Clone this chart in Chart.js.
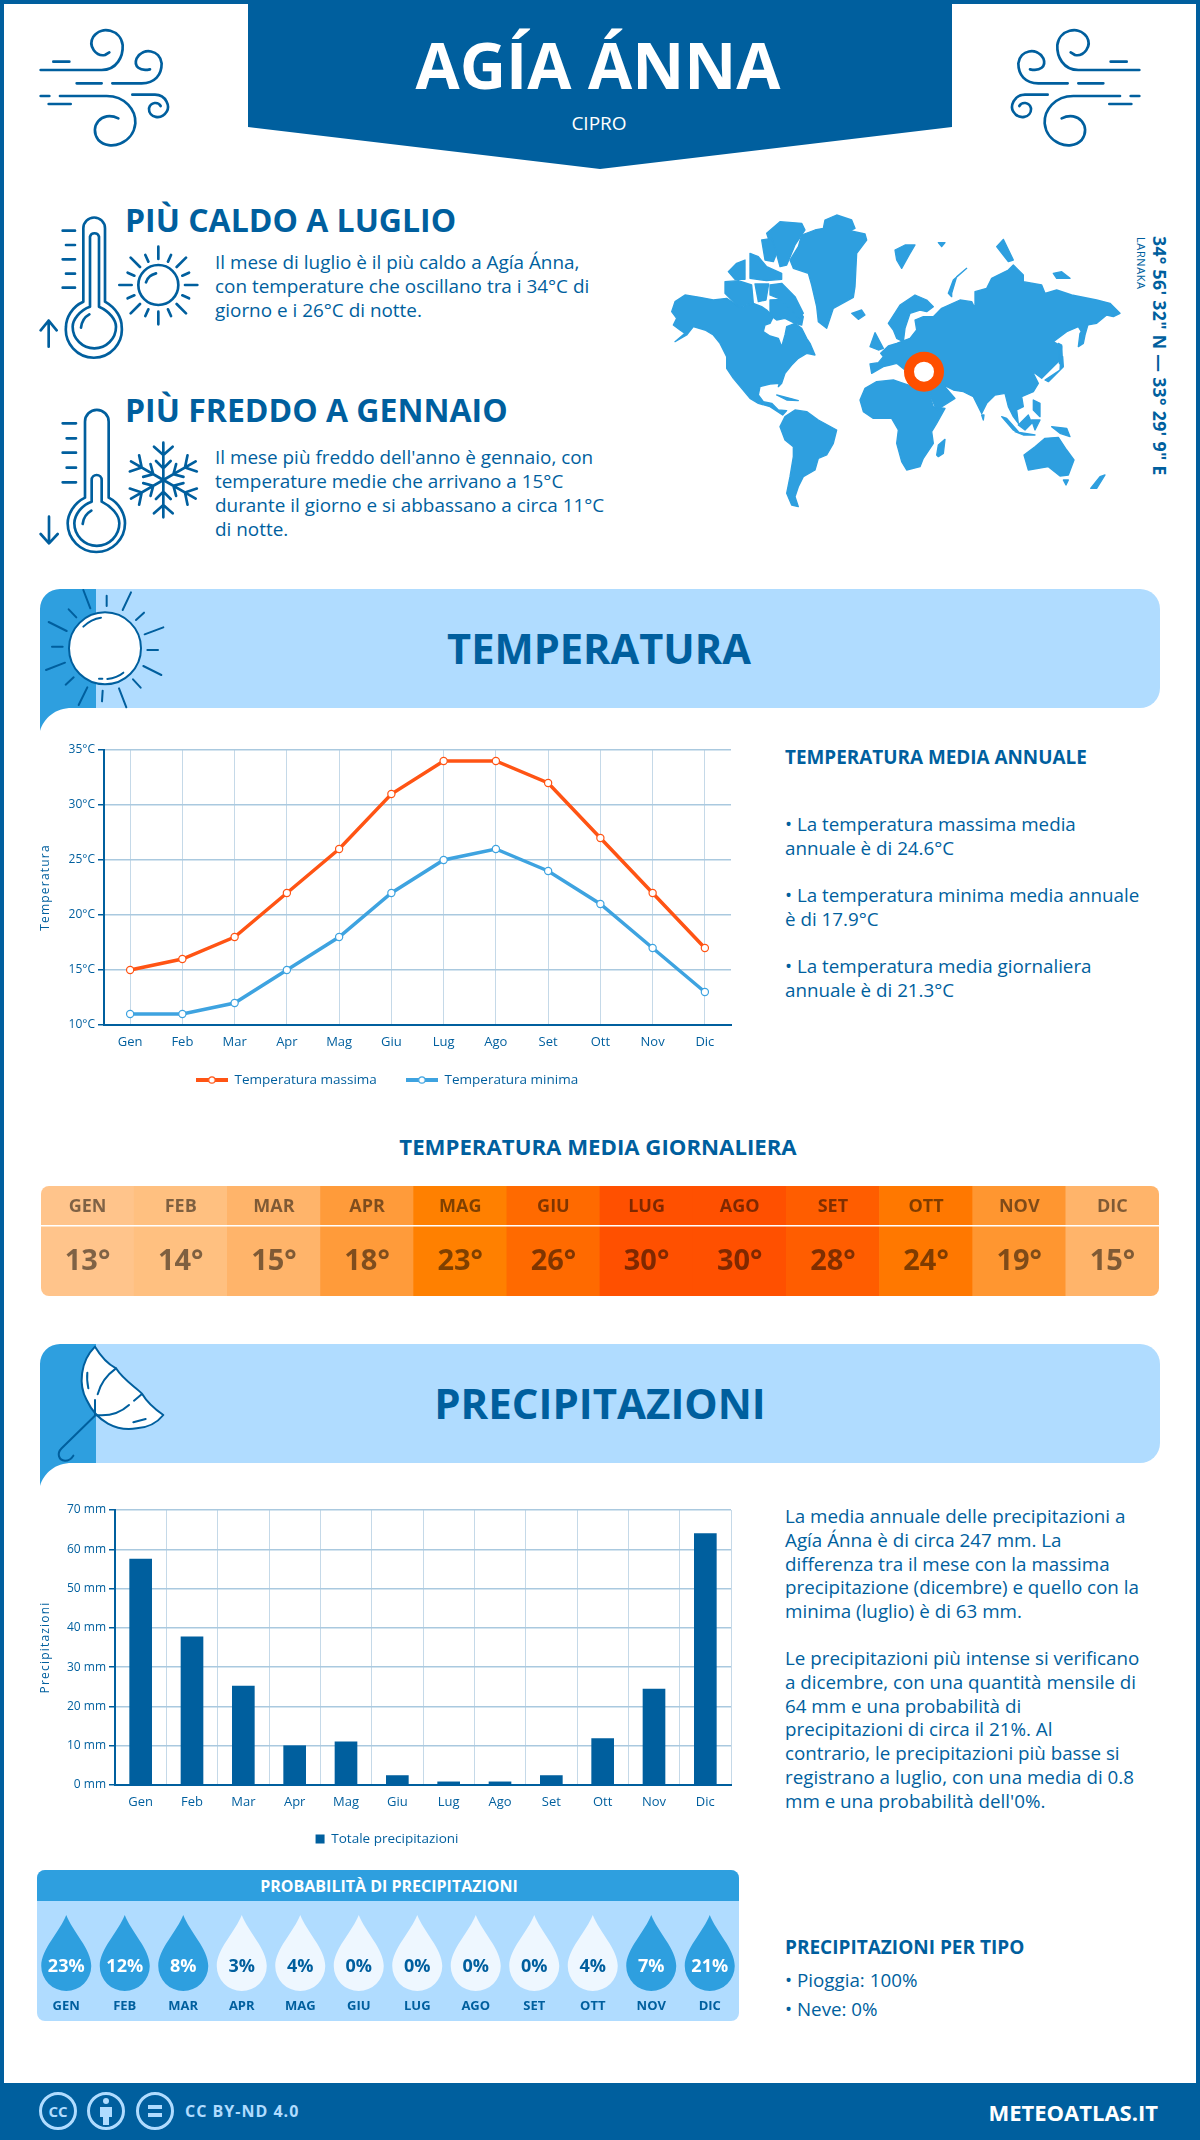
<!DOCTYPE html>
<html lang="it"><head><meta charset="utf-8"><title>Agía Ánna</title>
<script src="https://cdn.jsdelivr.net/npm/chart.js@4/dist/chart.umd.min.js"></script>
<style>
html,body{margin:0;padding:0;background:#fff}
#page{position:relative;width:1200px;height:2140px;overflow:hidden;font-family:"Open Sans",sans-serif;color:#005f9e;background:#fff}
.t{position:absolute;white-space:nowrap}
.b{font-weight:700}
svg{position:absolute;overflow:visible}
canvas{position:absolute}
.ic path,.ic circle{fill:none;stroke:#005f9e;stroke-linecap:round;stroke-linejoin:round}
.body{font-size:18.9px;line-height:24px}
.side{font-size:18.8px;line-height:23.8px}
</style></head><body><div id="page">

<svg style="left:0;top:0" width="1200" height="2140">
  <rect x="2" y="2" width="1196" height="2136" fill="none" stroke="#005f9e" stroke-width="4"/>
  <polygon points="248,0 952,0 952,127 600,169 248,127" fill="#005f9e"/>
  <rect x="0" y="2083" width="1200" height="57" fill="#005f9e"/>
  <g>
    <path d="M96,589 H1140 A20,20 0 0 1 1160,609 V688 A20,20 0 0 1 1140,708 H96 Z" fill="#b0dcff"/>
    <path d="M40,731 V609 A20,20 0 0 1 60,589 H96 V708 H72 C55,708 44,718 40,731 Z" fill="#2e9fdf"/>
  </g>
  <g transform="translate(0,755)">
    <path d="M96,589 H1140 A20,20 0 0 1 1160,609 V688 A20,20 0 0 1 1140,708 H96 Z" fill="#b0dcff"/>
    <path d="M40,731 V609 A20,20 0 0 1 60,589 H96 V708 H72 C55,708 44,718 40,731 Z" fill="#2e9fdf"/>
  </g>
  <rect x="37" y="1870" width="702" height="151" rx="8" fill="#b0dcff"/>
  <path d="M37,1901 V1878 A8,8 0 0 1 45,1870 H731 A8,8 0 0 1 739,1878 V1901 Z" fill="#2e9fdf"/>
</svg>

<!-- wind icons -->
<svg class="ic" style="left:30px;top:20px" width="150" height="140" viewBox="0 0 450 420"><g>
<path stroke-width="8" d="M32,150 H215 C260,150 280,110 278,75 C272,30 215,15 190,50 C172,80 200,110 225,105 L238,97"/>
<path stroke-width="8" d="M70,125 H118"/>
<path stroke-width="8" d="M140,190 H215 M247,190 H335 C375,190 395,165 395,130 C390,90 340,80 320,115 C310,140 330,155 360,148"/>
<path stroke-width="8" d="M32,228 H58 M90,228 H230 C285,228 318,270 316,310 C310,370 240,395 205,360 C175,320 215,270 265,295"/>
<path stroke-width="8" d="M56,252 H122"/>
<path stroke-width="8" d="M307,224 H375 C410,225 420,260 410,275 C395,300 355,295 357,265 C362,245 385,245 392,258"/>
</g></svg>
<svg class="ic" style="left:1000px;top:20px;transform:scaleX(-1)" width="150" height="140" viewBox="0 0 450 420"><g>
<path stroke-width="8" d="M32,150 H215 C260,150 280,110 278,75 C272,30 215,15 190,50 C172,80 200,110 225,105 L238,97"/>
<path stroke-width="8" d="M70,125 H118"/>
<path stroke-width="8" d="M140,190 H215 M247,190 H335 C375,190 395,165 395,130 C390,90 340,80 320,115 C310,140 330,155 360,148"/>
<path stroke-width="8" d="M32,228 H58 M90,228 H230 C285,228 318,270 316,310 C310,370 240,395 205,360 C175,320 215,270 265,295"/>
<path stroke-width="8" d="M56,252 H122"/>
<path stroke-width="8" d="M307,224 H375 C410,225 420,260 410,275 C395,300 355,295 357,265 C362,245 385,245 392,258"/>
</g></svg>

<!-- hot thermometer + sun -->
<svg class="ic" style="left:30px;top:205px" width="180" height="160" viewBox="0 0 540 480">
<path stroke-width="8" d="M160,290 V70 A32,32 0 0 1 225,70 V290 C260,310 275,340 275,365 A84,84 0 1 1 108,365 C108,340 125,305 160,290 Z"/>
<path stroke-width="8" d="M180,305 V95 A14,14 0 0 1 207,95 V305 C240,320 258,345 258,365 A65,65 0 1 1 128,365 C128,345 150,315 180,305 Z"/>
<path stroke-width="8" d="M153,368 C155,350 165,335 178,328 M98,77 H135 M108,120 H135 M98,163 H135 M108,206 H135 M98,248 H135 M56,425 V347 M32,376 L56,347 L80,376"/>
<circle stroke-width="8" cx="385" cy="240" r="60"/>
<path stroke-width="8" d="M348,232 C352,218 365,208 378,205 M385,125 V162 M385,320 V358 M268,240 H305 M465,240 H502 M302,158 L330,186 M468,158 L440,186 M302,325 L330,297 M468,325 L440,297 M346,150 L355,170 M423,150 L414,170 M293,203 L313,212 M477,203 L457,212 M293,280 L313,271 M477,280 L457,271 M346,333 L355,313 M423,333 L414,313"/>
</svg>
<!-- cold thermometer + snowflake -->
<svg class="ic" style="left:30px;top:400px" width="180" height="160" viewBox="0 0 540 480">
<path stroke-width="8" d="M165,293 V65 A35,35 0 0 1 236,65 V293 C270,310 285,345 285,370 A85,85 0 1 1 113,370 C113,345 130,310 165,293 Z"/>
<path stroke-width="8" d="M185,305 V240 A15,15 0 0 1 215,240 V305 C245,320 268,345 268,370 A67,67 0 1 1 133,370 C133,345 155,315 185,305 Z"/>
<path stroke-width="8" d="M158,372 C160,352 170,340 184,332 M98,70 H138 M110,115 H138 M98,158 H138 M110,203 H138 M98,247 H138 M57,350 V430 M32,402 L57,430 L83,402"/>
<path stroke-width="8" d="M400,240 V128 M372,140 L400,165 L428,140 M378,183 L400,205 L422,183"/>
<path stroke-width="8" transform="rotate(60 400 240)" d="M400,240 V128 M372,140 L400,165 L428,140 M378,183 L400,205 L422,183"/>
<path stroke-width="8" transform="rotate(120 400 240)" d="M400,240 V128 M372,140 L400,165 L428,140 M378,183 L400,205 L422,183"/>
<path stroke-width="8" transform="rotate(180 400 240)" d="M400,240 V128 M372,140 L400,165 L428,140 M378,183 L400,205 L422,183"/>
<path stroke-width="8" transform="rotate(240 400 240)" d="M400,240 V128 M372,140 L400,165 L428,140 M378,183 L400,205 L422,183"/>
<path stroke-width="8" transform="rotate(300 400 240)" d="M400,240 V128 M372,140 L400,165 L428,140 M378,183 L400,205 L422,183"/>
</svg>

<!-- banner sun -->
<svg style="left:30px;top:580px" width="180" height="160" viewBox="0 0 540 480">
<circle cx="225" cy="205" r="108" fill="#fff" stroke="#005f9e" stroke-width="6"/>
<path fill="none" stroke="#005f9e" stroke-width="6" stroke-linecap="round" d="M160,140 C175,125 195,115 213,113 M232,297 C250,295 268,288 280,278 M207,296 H217 M160,30 L181,85 M230,47 V78 M303,37 L278,90 M116,88 L139,112 M342,98 L318,120 M56,126 L110,153 M400,142 L344,163 M66,200 H98 M352,210 H384 M48,270 L105,248 M340,258 L394,285 M107,314 L131,292 M309,298 L332,323 M146,375 L172,322 M218,332 L216,364 M267,325 L289,382"/>
</svg>
<!-- banner umbrella -->
<svg style="left:30px;top:1335px" width="180" height="160" viewBox="0 0 540 480">
<path fill="#fff" stroke="#005f9e" stroke-width="6" stroke-linejoin="round" d="M195,35 C150,80 145,150 170,195 C200,260 260,290 320,280 C350,278 380,265 400,240 C370,220 350,200 335,175 C315,155 280,135 258,100 C230,85 210,60 195,35 Z"/>
<path fill="none" stroke="#005f9e" stroke-width="6" stroke-linecap="round" d="M258,100 C230,120 210,150 203,178 M195,195 V240 M197,240 C240,245 275,230 297,210 M312,197 L335,178 M172,113 C170,130 172,145 175,160 M310,262 L347,252 M197,240 L95,340 C80,355 85,375 105,377 C115,377 125,370 130,362"/>
</svg>

<!-- world map -->
<svg style="left:670px;top:210px" width="450" height="300" viewBox="0 0 1350 900">
<g fill="#2e9fdf" stroke="#2e9fdf" stroke-width="4" stroke-linejoin="round">
<path d="M5,305 L15,275 45,255 90,262 130,270 170,265 200,285 215,290 250,280 275,290 290,300 310,320 300,340 285,345 280,365 300,378 325,385 335,410 345,375 350,350 375,340 395,355 410,385 420,400 435,435 410,430 385,445 365,465 345,490 335,520 325,530 328,520 300,522 270,530 265,555 280,575 305,580 325,600 350,602 338,615 300,590 265,580 240,565 215,535 190,505 170,475 170,440 150,400 130,375 105,360 70,350 50,375 15,395 45,370 30,360 10,345 20,325 Z"/>
<path d="M300,270 L340,268 375,290 400,320 395,345 375,340 345,325 320,330 300,315 Z"/>
<path d="M290,70 L330,35 395,40 405,60 375,105 350,165 330,170 315,115 300,100 Z"/>
<path d="M360,150 L385,110 395,75 435,60 460,55 465,30 500,15 545,30 555,55 540,62 585,72 590,90 560,130 555,230 550,262 490,295 470,355 445,335 440,290 425,225 415,190 370,175 Z"/>
<path d="M300,225 L335,220 375,260 390,290 400,310 385,325 355,290 325,265 300,255 Z"/>
<path d="M175,185 L200,160 225,150 225,208 195,208 Z M240,130 L265,140 290,170 335,190 335,208 290,212 240,205 Z M165,215 L205,212 245,225 250,280 205,290 165,250 Z M255,222 L296,222 288,270 265,275 Z M275,90 L305,85 320,130 310,155 285,150 Z"/>
<path d="M320,555 L360,565 385,572 350,570 Z"/>
<path d="M330,650 L345,620 375,600 410,605 445,630 500,660 490,700 470,735 445,745 435,780 400,800 385,830 375,860 385,890 365,885 350,850 360,800 370,740 370,710 345,690 Z"/>
<path d="M570,570 L585,535 620,515 670,510 700,520 760,540 775,545 790,590 825,595 800,640 785,665 790,700 760,745 750,770 710,780 695,755 680,700 685,660 665,625 610,625 580,605 Z"/>
<path d="M800,735 L805,705 825,688 820,730 805,740 Z"/>
<path d="M655,340 L690,285 735,255 770,270 790,290 770,305 750,300 720,310 705,355 700,395 680,385 670,360 Z"/>
<path d="M600,462 L625,458 640,440 632,430 655,408 680,400 720,385 740,360 735,330 760,320 790,320 815,295 870,270 905,275 915,295 915,245 950,235 965,205 1015,180 1030,165 1060,195 1060,215 1115,225 1125,250 1160,240 1205,255 1280,270 1320,280 1350,310 1330,320 1310,315 1280,340 1250,345 1240,375 1225,350 1190,365 1150,395 1175,410 1170,450 1130,490 1115,505 1095,490 1085,480 1105,520 1090,545 1055,560 1060,590 1040,600 1045,640 1030,620 1015,590 1005,550 975,555 950,580 935,610 910,560 880,545 850,540 820,525 855,565 800,600 775,545 740,510 705,480 680,460 660,465 640,470 605,490 Z"/>
<path d="M1225,410 L1230,370 1255,340 1245,375 1240,400 Z M1165,400 L1175,405 1178,470 1168,460 Z M1125,510 L1170,480 1172,450 1178,440 1180,470 1135,515 Z"/>
<path d="M600,410 L615,368 640,415 625,420 Z M545,310 L575,300 585,315 565,328 Z M675,120 L705,105 735,105 720,130 695,175 680,150 Z M835,250 L850,210 890,175 860,200 845,250 845,260 Z M805,98 L825,98 815,110 Z M980,110 L1000,88 1030,150 1015,155 Z M1150,190 L1175,185 1200,205 1160,205 Z"/>
<path d="M1062,735 L1095,710 1125,685 1165,682 1190,720 1212,750 1195,795 1170,798 1135,770 1075,780 Z M1180,810 L1195,810 1188,825 Z M1262,835 L1290,800 1305,795 1280,835 Z"/>
<path d="M1045,645 L1075,615 1085,640 1065,660 Z M995,620 L1010,625 1045,665 1030,660 Z M1035,665 L1095,675 1060,675 Z M1085,630 L1110,630 1095,660 Z M1145,650 L1190,655 1200,680 1170,670 Z M1090,570 L1110,580 1110,620 1090,600 Z M935,615 L942,615 940,630 Z"/>
</g>
<circle cx="762" cy="485" r="45" fill="#fff" stroke="#ff4f00" stroke-width="30"/>
</svg>

<!-- texts -->
<div class="t b" style="left:-2px;width:1200px;text-align:center;top:21px;line-height:88px;font-size:64px;color:#fff">AGÍA ÁNNA</div>
<div class="t" style="left:-1px;width:1200px;text-align:center;top:111px;line-height:24px;font-size:19px;color:#fff">CIPRO</div>

<div class="t b" style="left:125px;top:199px;line-height:42px;font-size:32px">PIÙ CALDO A LUGLIO</div>
<div class="t body" style="left:215px;top:250px">Il mese di luglio è il più caldo a Agía Ánna,<br>con temperature che oscillano tra i 34°C di<br>giorno e i 26°C di notte.</div>
<div class="t b" style="left:125px;top:389px;line-height:42px;font-size:32px">PIÙ FREDDO A GENNAIO</div>
<div class="t body" style="left:215px;top:445px">Il mese più freddo dell'anno è gennaio, con<br>temperature medie che arrivano a 15°C<br>durante il giorno e si abbassano a circa 11°C<br>di notte.</div>

<div class="t b" style="left:1160px;top:236px;font-size:17.7px;line-height:20px;transform-origin:0 0;transform:rotate(90deg) translateY(-10px);letter-spacing:.3px">34° 56' 32" N — 33° 29' 9" E</div>
<div class="t" style="left:1141px;top:237px;font-size:11px;line-height:14px;transform-origin:0 0;transform:rotate(90deg) translateY(-7px);letter-spacing:.6px">LARNAKA</div>

<div class="t b" style="left:-1px;width:1200px;text-align:center;top:618px;line-height:60px;font-size:41.6px">TEMPERATURA</div>
<div class="t b" style="left:0;width:1200px;text-align:center;top:1373px;line-height:60px;font-size:42px">PRECIPITAZIONI</div>

<div class="t b" style="left:785px;top:742px;line-height:30px;font-size:18.9px">TEMPERATURA MEDIA ANNUALE</div>
<div class="t side" style="left:785px;top:813px">• La temperatura massima media<br>annuale è di 24.6°C</div>
<div class="t side" style="left:785px;top:884px">• La temperatura minima media annuale<br>è di 17.9°C</div>
<div class="t side" style="left:785px;top:955px">• La temperatura media giornaliera<br>annuale è di 21.3°C</div>

<div class="t b" style="left:-2px;width:1200px;text-align:center;top:1132px;line-height:30px;font-size:22.2px">TEMPERATURA MEDIA GIORNALIERA</div>

<div class="t side" style="left:785px;top:1505px">La media annuale delle precipitazioni a<br>Agía Ánna è di circa 247 mm. La<br>differenza tra il mese con la massima<br>precipitazione (dicembre) e quello con la<br>minima (luglio) è di 63 mm.</div>
<div class="t side" style="left:785px;top:1647px">Le precipitazioni più intense si verificano<br>a dicembre, con una quantità mensile di<br>64 mm e una probabilità di<br>precipitazioni di circa il 21%. Al<br>contrario, le precipitazioni più basse si<br>registrano a luglio, con una media di 0.8<br>mm e una probabilità dell'0%.</div>

<div class="t b" style="left:38px;width:702px;text-align:center;top:1871px;line-height:31px;font-size:16px;color:#fff">PROBABILITÀ DI PRECIPITAZIONI</div>

<div class="t b" style="left:785px;top:1932px;line-height:30px;font-size:19px">PRECIPITAZIONI PER TIPO</div>
<div class="t" style="left:785px;top:1968px;line-height:24px;font-size:18.8px">• Pioggia: 100%</div>
<div class="t" style="left:785px;top:1997px;line-height:24px;font-size:18.8px">• Neve: 0%</div>

<!-- footer -->
<svg style="left:0;top:2083px" width="300" height="57" fill="none" stroke="#b0dcff">
  <circle cx="58" cy="28" r="17.5" stroke-width="3"/><circle cx="106" cy="28" r="17.5" stroke-width="3"/><circle cx="155" cy="28" r="17.5" stroke-width="3"/>
  <circle cx="106" cy="18" r="3" fill="#b0dcff" stroke="none"/>
  <path d="M100,24 H112 V34 H109 V42 H103 V34 H100 Z" fill="#b0dcff" stroke="none"/>
  <path d="M148,24 H162 M148,32 H162" stroke-width="4"/>
</svg>
<div class="t b" style="left:47px;width:22px;text-align:center;top:2099px;line-height:24px;font-size:15px;color:#b0dcff">CC</div>
<div class="t b" style="left:185px;top:2099px;line-height:24px;font-size:16px;color:#b0dcff;letter-spacing:1px">CC BY-ND 4.0</div>
<div class="t b" style="right:42px;top:2094px;line-height:36px;font-size:22px;color:#fff">METEOATLAS.IT</div>

<canvas id="lineChart" style="left:30px;top:735px"></canvas>
<canvas id="heatChart" style="left:41px;top:1186px;border-radius:8px"></canvas>
<canvas id="barChart" style="left:30px;top:1495px"></canvas>
<canvas id="dropChart" style="left:37px;top:1901px"></canvas>
</div>

<script>
const months = ["Gen","Feb","Mar","Apr","Mag","Giu","Lug","Ago","Set","Ott","Nov","Dic"];
const monthsUpper = ["GEN","FEB","MAR","APR","MAG","GIU","LUG","AGO","SET","OTT","NOV","DIC"];
const tempMax = [15,16,18,22,26,31,34,34,32,27,22,17];
const tempMin = [11,11,12,15,18,22,25,26,24,21,17,13];
const tempDaily = [13,14,15,18,23,26,30,30,28,24,19,15];
const rainTotal = [57.5,37.7,25.2,10,11,2.4,0.8,0.8,2.4,11.8,24.4,64];
const rainProb = [23,12,8,3,4,0,0,0,0,4,7,21];
const heatColors = ["#ffc48b","#ffc080","#ffb46a","#ff9b3a","#ff8000","#ff6a00","#ff5000","#ff5000","#ff5d00","#ff7800","#ff9630","#ffb46a"];

const DARK="#005f9e", ORANGE="#ff5414", SKY="#3ea3e0", FONT="'Open Sans', sans-serif";
Chart.defaults.font.family = FONT;
Chart.defaults.color = DARK;
Chart.defaults.animation = false;
Chart.defaults.responsive = false;
Chart.defaults.devicePixelRatio = 1;

function size(id,w,h){const c=document.getElementById(id);c.width=w;c.height=h;c.style.width=w+"px";c.style.height=h+"px";return c;}
function swatch(color){
  const c=document.createElement("canvas");c.width=32;c.height=12;const x=c.getContext("2d");
  x.strokeStyle=color;x.lineWidth=4;x.beginPath();x.moveTo(0,6);x.lineTo(32,6);x.stroke();
  x.fillStyle="#fff";x.lineWidth=1.2;x.beginPath();x.arc(16,6,3.2,0,Math.PI*2);x.fill();x.stroke();
  return c;
}
const spacedTitle={id:"spacedTitle",beforeDraw(ch){
  const s=ch.scales.y;
  if(s._patched)return; s._patched=true;
  const o=s.drawTitle.bind(s);
  s.drawTitle=function(){ch.ctx.save();ch.ctx.letterSpacing="1.2px";o();ch.ctx.restore();};
}};
/* moves the finished legend box to the reference's centre line */
function legendAt(cx,cy){return {id:"legendAt",afterLayout(ch){
  const l=ch.legend,w=l.right-l.left,o=l.options.labels;
  l.left=cx-w/2;l.right=cx+w/2;
  l.top=cy-o.padding-o.font.size/2;
}};}
function pin(ch,st,cl,ct,t){
  for(let i=0;i<3;i++){
    const a=ch.chartArea,p=st.pad;
    st.w+=(t.left-cl)-a.left;
    st.h+=a.bottom-(t.bottom-ct);
    p.top+=(t.top-ct)-a.top;
    p.right+=a.right-(t.right-cl);
    ch.options.layout.padding={...p};
    ch.update("none");
  }
}

/* ---- temperature lines ---- */
const ls={w:60,h:40,pad:{top:15,right:13,left:0,bottom:0}};
const lineCh=new Chart(size("lineChart",714,420),{
  type:"line",
  data:{labels:months,datasets:[
    {label:"Temperatura massima",data:tempMax,borderColor:ORANGE,backgroundColor:"#fff",borderWidth:3.5,tension:0,pointRadius:3.6,pointBorderWidth:1.2,pointBackgroundColor:"#fff",pointBorderColor:ORANGE},
    {label:"Temperatura minima",data:tempMin,borderColor:SKY,backgroundColor:"#fff",borderWidth:3.5,tension:0,pointRadius:3.6,pointBorderWidth:1.2,pointBackgroundColor:"#fff",pointBorderColor:SKY}
  ]},
  options:{
    layout:{padding:ls.pad},
    plugins:{
      tooltip:{enabled:false},
      legend:{position:"bottom",labels:{usePointStyle:true,pointStyleWidth:32,boxHeight:12,padding:29,color:DARK,font:{size:13.5},
        generateLabels:c=>c.data.datasets.map((d,i)=>({text:d.label,datasetIndex:i,fontColor:DARK,lineWidth:0,strokeStyle:d.borderColor,fillStyle:d.borderColor,pointStyle:swatch(d.borderColor)}))}}
    },
    scales:{
      x:{offset:true,grid:{offset:false,drawTicks:false,color:"#c5d9e8",lineWidth:1},border:{color:DARK,width:2},
         ticks:{padding:9,color:DARK,font:{size:13},autoSkip:false,maxRotation:0},afterFit(s){s.height=ls.h;}},
      y:{min:10,max:35,grid:{color:"#aac9df",lineWidth:1.5,tickColor:DARK,tickLength:6},border:{color:DARK,width:2},
         ticks:{stepSize:5,padding:3,color:DARK,font:{size:12},callback:v=>v+"°C"},
         title:{display:true,text:"Temperatura",color:DARK,font:{size:12},padding:{top:8,bottom:0}},afterFit(s){s.width=ls.w;}}
    }
  },
  plugins:[spacedTitle,legendAt(387-30,1080-735)]
});
pin(lineCh,ls,30,735,{left:104,top:750,right:731,bottom:1025});

/* ---- rain bars ---- */
const bs={w:70,h:40,pad:{top:15,right:13,left:0,bottom:0}};
const barCh=new Chart(size("barChart",714,361),{
  type:"bar",
  data:{labels:months,datasets:[{label:"Totale precipitazioni",data:rainTotal,backgroundColor:DARK,barThickness:22}]},
  options:{
    layout:{padding:bs.pad},
    plugins:{tooltip:{enabled:false},
      legend:{position:"bottom",labels:{usePointStyle:true,pointStyle:"rect",boxWidth:9,boxHeight:9,padding:10,color:DARK,font:{size:13.5}}}},
    scales:{
      x:{grid:{drawTicks:false,color:"#c5d9e8",lineWidth:1},border:{color:DARK,width:2},
         ticks:{padding:9,color:DARK,font:{size:13},autoSkip:false,maxRotation:0},afterFit(s){s.height=bs.h;}},
      y:{min:0,max:70,grid:{color:"#aac9df",lineWidth:1.5,tickColor:DARK,tickLength:6},border:{color:DARK,width:2},
         ticks:{stepSize:10,padding:3,color:DARK,font:{size:12},callback:v=>v+" mm"},
         title:{display:true,text:"Precipitazioni",color:DARK,font:{size:12},padding:{top:8,bottom:0}},afterFit(s){s.width=bs.w;}}
    }
  },
  plugins:[spacedTitle,legendAt(387-30,1839-1495)]
});
pin(barCh,bs,30,1495,{left:115,top:1510,right:731,bottom:1785});

/* ---- daily mean heat strip: y range is clipped so each bar fills its cell ---- */
const heatText={id:"heatText",afterDatasetsDraw(ch){
  const c=ch.ctx,a=ch.chartArea,s=ch.scales.x;
  c.save();
  c.fillStyle="#fff";c.fillRect(a.left,39,a.right-a.left,1.5);
  c.fillStyle="rgba(0,0,0,.5)";c.textAlign="center";c.textBaseline="middle";
  monthsUpper.forEach((m,i)=>{
    const x=s.getPixelForValue(i);
    c.font="700 18px "+FONT;c.fillText(m,x,21);
    c.font="700 29px "+FONT;c.fillText(tempDaily[i]+"°",x,76);
  });
  c.restore();
}};
new Chart(size("heatChart",1118,110),{
  type:"bar",
  data:{labels:monthsUpper,datasets:[{data:tempDaily,backgroundColor:heatColors,barPercentage:1,categoryPercentage:1,borderWidth:0}]},
  options:{
    layout:{padding:0},
    plugins:{legend:{display:false},tooltip:{enabled:false}},
    scales:{x:{display:false},y:{display:false,min:0,max:1}}
  },
  plugins:[heatText]
});

/* ---- rain probability drops, placed by the category scale ---- */
function dropPath(c,x,top){
  const r=25,h=76,cy=top+h-r;
  c.beginPath();c.moveTo(x,top);
  c.bezierCurveTo(x+6,top+16,x+r,top+34,x+r,cy);
  c.arc(x,cy,r,0,Math.PI);
  c.bezierCurveTo(x-r,top+34,x-6,top+16,x,top);
  c.closePath();
}
const drops={id:"drops",afterDatasetsDraw(ch){
  const c=ch.ctx,s=ch.scales.x;
  c.save();c.textAlign="center";c.textBaseline="middle";
  rainProb.forEach((v,i)=>{
    const x=s.getPixelForValue(i),hi=v>=5;
    c.fillStyle=hi?"#2e9fdf":"#eef7ff";dropPath(c,x,14);c.fill();
    c.fillStyle=hi?"#fff":DARK;c.font="700 18px "+FONT;c.fillText(v+"%",x,66);
  });
  c.restore();
}};
new Chart(size("dropChart",702,120),{
  type:"bar",
  data:{labels:monthsUpper,datasets:[{data:rainProb,backgroundColor:"rgba(0,0,0,0)"}]},
  options:{
    layout:{padding:{bottom:7}},
    plugins:{legend:{display:false},tooltip:{enabled:false}},
    scales:{
      x:{grid:{display:false},border:{display:false},ticks:{color:DARK,padding:0,autoSkip:false,maxRotation:0,font:{size:13,weight:"700"}}},
      y:{display:false,min:0,max:100}
    }
  },
  plugins:[drops]
});
</script>
</body></html>
